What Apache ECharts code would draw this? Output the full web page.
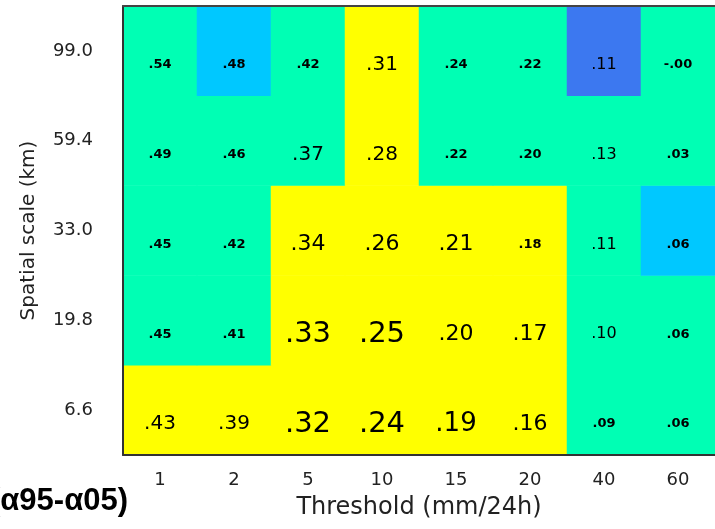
<!DOCTYPE html>
<html>
<head>
<meta charset="utf-8">
<script src="https://cdn.jsdelivr.net/npm/echarts@6/dist/echarts.min.js"></script>
<style>
html,body{margin:0;padding:0;background:#fff;}
#chart{width:715px;height:529px;}
</style>
</head>
<body>
<div id="chart"></div>
<script>
// Threshold categories (x) and spatial scales (y, bottom to top)
var thresholds = ['1', '2', '5', '10', '15', '20', '40', '60'];
var scales = ['6.6', '19.8', '33.0', '59.4', '99.0'];

// Values per row (row order matches scales: 6.6 ... 99.0)
var row6_6  = [0.43, 0.39, 0.32, 0.24, 0.19, 0.16, 0.09, 0.06];
var row19_8 = [0.45, 0.41, 0.33, 0.25, 0.20, 0.17, 0.10, 0.06];
var row33_0 = [0.45, 0.42, 0.34, 0.26, 0.21, 0.18, 0.11, 0.06];
var row59_4 = [0.49, 0.46, 0.37, 0.28, 0.22, 0.20, 0.13, 0.03];
var row99_0 = [0.54, 0.48, 0.42, 0.31, 0.24, 0.22, 0.11, -0.001];

// Category class of each cell (0 green, 1 yellow, 2 light blue, 3 blue)
var cls6_6  = [1, 1, 1, 1, 1, 1, 0, 0];
var cls19_8 = [0, 0, 1, 1, 1, 1, 0, 0];
var cls33_0 = [0, 0, 1, 1, 1, 1, 0, 2];
var cls59_4 = [0, 0, 0, 1, 0, 0, 0, 0];
var cls99_0 = [0, 2, 0, 1, 0, 0, 3, 0];

// Label emphasis level of each cell (0 smallest ... 5 largest)
var lvl6_6  = [2, 2, 5, 5, 4, 3, 0, 0];
var lvl19_8 = [0, 0, 5, 5, 3, 3, 1, 0];
var lvl33_0 = [0, 0, 3, 3, 3, 0, 1, 0];
var lvl59_4 = [0, 0, 2, 2, 0, 0, 1, 0];
var lvl99_0 = [0, 0, 0, 2, 0, 0, 1, 0];

var rows = [row6_6, row19_8, row33_0, row59_4, row99_0];
var clsRows = [cls6_6, cls19_8, cls33_0, cls59_4, cls99_0];
var lvlRows = [lvl6_6, lvl19_8, lvl33_0, lvl59_4, lvl99_0];

var lvlStyle = [
  {fontSize: 13, fontWeight: 'bold'},
  {fontSize: 16, fontWeight: 'normal'},
  {fontSize: 20, fontWeight: 'normal'},
  {fontSize: 22, fontWeight: 'normal'},
  {fontSize: 26, fontWeight: 'normal'},
  {fontSize: 29, fontWeight: 'normal'}
];

function fmt(v) {
  var s = v.toFixed(2);
  return s.replace('0.', '.');
}

var data = [];
for (var r = 0; r < rows.length; r++) {
  for (var c = 0; c < thresholds.length; c++) {
    var st = lvlStyle[lvlRows[r][c]];
    data.push({
      value: [c, r, rows[r][c], clsRows[r][c]],
      label: {fontSize: st.fontSize, fontWeight: st.fontWeight}
    });
  }
}

var chart = echarts.init(document.getElementById('chart'));
chart.setOption({
  animation: false,
  backgroundColor: '#ffffff',
  grid: {left: 123, top: 6, width: 600, height: 449},
  xAxis: [{
    type: 'category',
    data: thresholds,
    position: 'bottom',
    z: 5,
    axisLine: {show: true, lineStyle: {color: '#333', width: 2}},
    axisTick: {show: false},
    splitLine: {show: false},
    axisLabel: {color: '#222', fontFamily: 'DejaVu Sans', fontSize: 18, margin: 16},
    name: 'Threshold (mm/24h)',
    nameLocation: 'middle',
    nameGap: 41,
    nameTextStyle: {color: '#222', fontFamily: 'DejaVu Sans', fontSize: 24}
  }, {
    type: 'category',
    data: thresholds,
    position: 'top',
    z: 5,
    axisLine: {show: true, lineStyle: {color: '#444', width: 2}},
    axisTick: {show: false},
    axisLabel: {show: false},
    splitLine: {show: false}
  }],
  yAxis: {
    type: 'category',
    data: scales,
    z: 5,
    axisLine: {show: true, lineStyle: {color: '#333', width: 2}},
    axisTick: {show: false},
    splitLine: {show: false},
    axisLabel: {color: '#222', fontFamily: 'DejaVu Sans', fontSize: 18, margin: 30},
    name: 'Spatial scale (km)',
    nameLocation: 'middle',
    nameRotate: 90,
    nameGap: 84,
    nameTextStyle: {color: '#222', fontFamily: 'DejaVu Sans', fontSize: 20}
  },
  visualMap: {
    show: false,
    type: 'piecewise',
    dimension: 3,
    seriesIndex: 0,
    pieces: [
      {value: 0, color: '#00FFB4'},
      {value: 1, color: '#FFFF00'},
      {value: 2, color: '#00C8FF'},
      {value: 3, color: '#3C78F0'}
    ]
  },
  series: [{
    type: 'heatmap',
    xAxisIndex: 0,
    yAxisIndex: 0,
    data: data,
    itemStyle: {borderWidth: 0},
    label: {
      show: true,
      color: '#000',
      fontFamily: 'DejaVu Sans',
      offset: [0, 14],
      formatter: function (p) { return fmt(p.value[2]); }
    },
    emphasis: {disabled: true}
  }],
  graphic: [{
    type: 'text',
    x: 128,
    y: 501,
    style: {
      text: '(\u03b195-\u03b105)',
      fontFamily: 'Liberation Sans',
      fontWeight: 'bold',
      fontSize: 31,
      fill: '#000',
      align: 'right',
      verticalAlign: 'middle'
    }
  }]
});
</script>
</body>
</html>
